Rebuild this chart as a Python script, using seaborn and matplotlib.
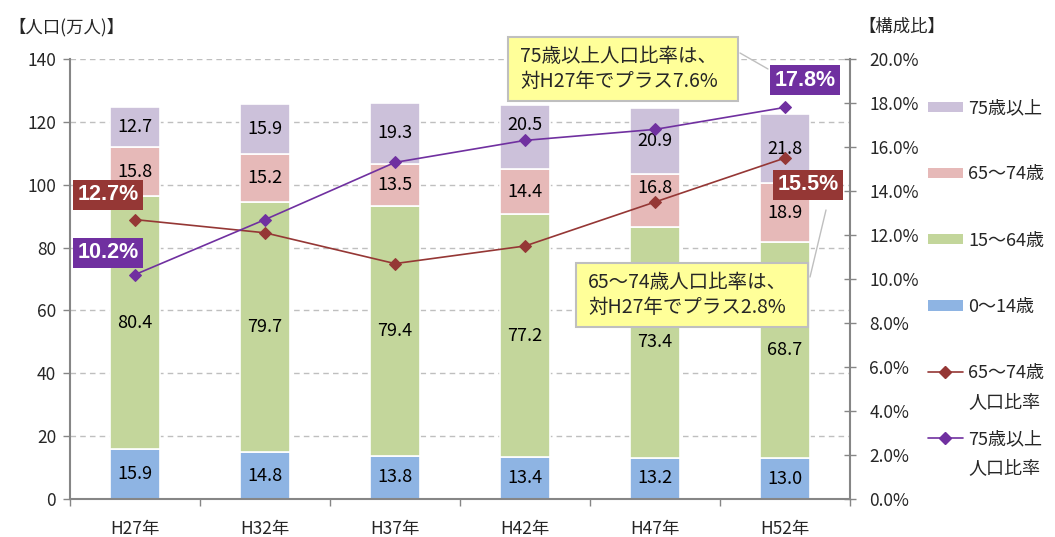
import matplotlib
matplotlib.use("Agg")
import matplotlib.pyplot as plt
import seaborn as sns
import pandas as pd
import numpy as np
from matplotlib.patches import Patch
from matplotlib.lines import Line2D
from matplotlib.ticker import FuncFormatter, MultipleLocator, FixedLocator

categories = ["H27年", "H32年", "H37年", "H42年", "H47年", "H52年"]
age_0_14 = [15.9, 14.8, 13.8, 13.4, 13.2, 13.0]
age_15_64 = [80.4, 79.7, 79.4, 77.2, 73.4, 68.7]
age_65_74 = [15.8, 15.2, 13.5, 14.4, 16.8, 18.9]
age_75_up = [12.7, 15.9, 19.3, 20.5, 20.9, 21.8]
rate_65_74 = [12.7, 12.1, 10.7, 11.5, 13.5, 15.5]
rate_75_up = [10.2, 12.7, 15.3, 16.3, 16.8, 17.8]

series_names = ["0～14歳", "15～64歳", "65～74歳", "75歳以上"]
series_vals = [age_0_14, age_15_64, age_65_74, age_75_up]
series_colors = ["#8EB4E3", "#C3D69B", "#E6B9B8", "#CCC1DA"]
c_red = "#953735"
c_purple = "#7030A0"

# a few value labels are nudged upward (in pixels) to stay clear of the lines
label_nudge_px = {(2, 4): 12, (3, 3): 12}

sns.set_theme(style="white")
plt.rcParams["font.family"] = ["Noto Sans CJK JP", "DejaVu Sans"]

W, H = 1055, 537
fig = plt.figure(figsize=(W / 100, H / 100), dpi=100)
ax = fig.add_axes([70 / W, 1 - 499 / H, 780 / W, 440 / H])
px_to_units = 140 / 440

bottom = np.zeros(len(categories))
for si, (name, vals, col) in enumerate(zip(series_names, series_vals, series_colors)):
    df = pd.DataFrame({"cat": categories, "v": vals})
    sns.barplot(data=df, x="cat", y="v", color=col, width=0.39, bottom=bottom.copy(),
                edgecolor="white", linewidth=1.2, ax=ax, saturation=1, zorder=2)
    for i, v in enumerate(vals):
        yy = bottom[i] + v / 2 + label_nudge_px.get((si, i), 0) * px_to_units
        ax.text(i, yy, f"{v:.1f}", ha="center", va="center",
                fontsize=13, color="black", zorder=5)
    bottom += np.array(vals)

ax.set_xlim(-0.5, len(categories) - 0.5)
ax.set_ylim(0, 140)
ax.yaxis.set_major_locator(MultipleLocator(20))
ax.set_xlabel("")
ax.set_ylabel("")
ax.grid(axis="y", color="#BFBFBF", linestyle=(0, (4, 3)), linewidth=1)
ax.set_axisbelow(True)
for s in ["top", "right"]:
    ax.spines[s].set_visible(False)
for s in ["left", "bottom"]:
    ax.spines[s].set_color("#868686")
    ax.spines[s].set_linewidth(1.5)
ax.tick_params(axis="y", which="major", direction="out", length=5, color="#868686",
               width=1, labelsize=12.5, left=True, pad=5)
ax.xaxis.set_minor_locator(FixedLocator(np.arange(-0.5, len(categories), 1.0)))
ax.tick_params(axis="x", which="major", length=0, labelsize=12.5, pad=15)
ax.tick_params(axis="x", which="minor", direction="out", length=5, color="#868686",
               width=1, bottom=True)

ax2 = ax.twinx()
xs = np.arange(len(categories))
sns.lineplot(x=xs, y=rate_65_74, color=c_red, marker="D", markersize=6,
             markeredgecolor=c_red, linewidth=1.2, ax=ax2, zorder=4)
sns.lineplot(x=xs, y=rate_75_up, color=c_purple, marker="D", markersize=6,
             markeredgecolor=c_purple, linewidth=1.2, ax=ax2, zorder=4)
ax2.set_ylim(0, 20)
ax2.yaxis.set_major_locator(MultipleLocator(2))
ax2.yaxis.set_major_formatter(FuncFormatter(lambda v, p: f"{v:.1f}%"))
ax2.grid(False)
for s in ["top", "left", "bottom"]:
    ax2.spines[s].set_visible(False)
ax2.spines["right"].set_color("#868686")
ax2.spines["right"].set_linewidth(1.5)
ax2.tick_params(axis="y", direction="inout", length=8, color="#868686", width=1,
                labelsize=12.5, right=True, pad=10)
ax2.set_ylabel("")

# axis titles
fig.text(8 / W, 1 - 27 / H, "【人口(万人)】", fontsize=12.5, va="center", ha="left")
fig.text(858 / W, 1 - 27 / H, "【構成比】", fontsize=12.5, va="center", ha="left")

# value flags
def flag(xp, yp, txt, col):
    fig.text(xp / W, 1 - yp / H, txt, fontsize=15.5, color="white", ha="center", va="center",
             family=["Liberation Sans", "DejaVu Sans"], weight="bold",
             bbox=dict(boxstyle="square,pad=0.22", facecolor=col, edgecolor="none"))

flag(108, 195, f"{rate_65_74[0]:.1f}%", c_red)
flag(108, 253, f"{rate_75_up[0]:.1f}%", c_purple)
flag(805, 80, f"{rate_75_up[-1]:.1f}%", c_purple)
flag(808, 185, f"{rate_65_74[-1]:.1f}%", c_red)

# callouts
def callout(x0, y0, x1, y1, txt):
    rect = plt.Rectangle((x0 / W, 1 - y1 / H), (x1 - x0) / W, (y1 - y0) / H,
                         transform=fig.transFigure, facecolor="#FFFF99",
                         edgecolor="#BFBFBF", linewidth=1.5, zorder=10)
    fig.patches.append(rect)
    fig.text((x0 + 12) / W, 1 - ((y0 + y1) / 2) / H, txt, fontsize=14, ha="left",
             va="center", linespacing=1.2, zorder=11)

d75 = rate_75_up[-1] - rate_75_up[0]
d65 = rate_65_74[-1] - rate_65_74[0]
callout(508, 37, 738, 101, f"75歳以上人口比率は、\n対H27年でプラス{d75:.1f}%")
callout(576, 263, 808, 327, f"65～74歳人口比率は、\n対H27年でプラス{d65:.1f}%")
fig.lines.append(Line2D([740 / W, 768 / W], [1 - 53 / H, 1 - 69 / H],
                        transform=fig.transFigure, color="#BFBFBF", linewidth=1))
fig.lines.append(Line2D([810 / W, 826 / W], [1 - 277 / H, 1 - 210 / H],
                        transform=fig.transFigure, color="#BFBFBF", linewidth=1))

# legend
handles = [
    Patch(facecolor=series_colors[3], edgecolor="none"),
    Patch(facecolor=series_colors[2], edgecolor="none"),
    Patch(facecolor=series_colors[1], edgecolor="none"),
    Patch(facecolor=series_colors[0], edgecolor="none"),
    Line2D([], [], color=c_red, marker="D", markersize=6, linewidth=1.2),
    Line2D([], [], color=c_purple, marker="D", markersize=6, linewidth=1.2),
]
labels = ["75歳以上", "65～74歳", "15～64歳", "0～14歳", "65～74歳", "75歳以上"]
second_lines = {4: "人口比率", 5: "人口比率"}
leg = fig.legend(handles, labels, loc="upper left", bbox_to_anchor=(921 / W, 1 - 92 / H),
                 frameon=False, fontsize=13, handlelength=1.9, handleheight=0.5,
                 handletextpad=0.33, labelspacing=2.67, borderaxespad=0)

fig.canvas.draw()
inv = fig.transFigure.inverted()
for idx, txt in second_lines.items():
    ext = leg.get_texts()[idx].get_window_extent()
    x0, y0 = inv.transform((ext.x0, ext.y0))
    _, y1 = inv.transform((ext.x0, ext.y0 - 29))
    yc = inv.transform((0, (ext.y0 + ext.y1) / 2 - 29))[1]
    fig.text(x0, yc, txt, fontsize=13, ha="left", va="center")

fig.savefig("out.png", dpi=100)
